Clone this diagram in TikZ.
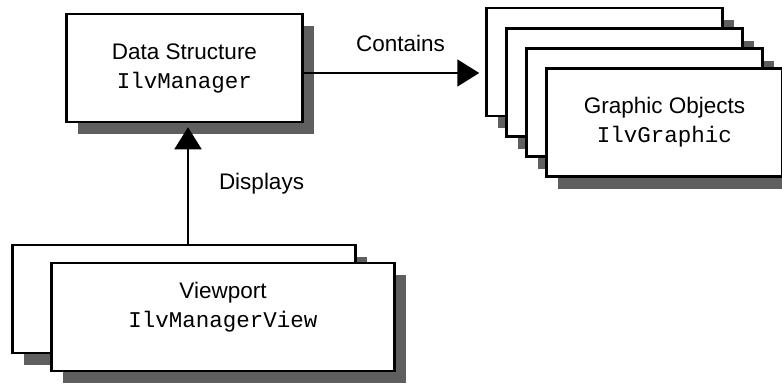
\documentclass[tikz,border=0pt]{standalone}
\usepackage{fontspec}
\setmainfont{Liberation Sans}
\setmonofont{Liberation Mono}
\usepackage{tikz}
\usetikzlibrary{arrows.meta, positioning, shadows}
\definecolor{ilvInk}{HTML}{000000}
\definecolor{ilvShadow}{HTML}{5F5F5F}

\begin{document}
\begin{tikzpicture}[
  x=1pt, y=-1pt,
  box/.style={draw=ilvInk, fill=white, line width=2.5pt, align=center, inner sep=0pt,
              font=\fontsize{22.5}{29}\selectfont, minimum width=236pt, minimum height=108pt,
              drop shadow={shadow xshift=11pt, shadow yshift=-12pt, fill=ilvShadow, opacity=1}},
  viewbox/.style={box, minimum width=343pt},
  arr/.style={-{Triangle[length=22pt, width=27pt]}, line width=2pt, color=ilvInk},
  lbl/.style={font=\fontsize{22.5}{27}\selectfont, inner sep=0pt}
]
\useasboundingbox (0,0) rectangle (782,383);

\node[box] (DS) at (184.5,68) {Data Structure\\\texttt{IlvManager}};

% stack of graphic objects, back to front
\node[box] (g1) at (604.5,62) {};
\node[box] (g2) at ([shift={(20,20.5)}]g1) {};
\node[box] (g3) at ([shift={(20,20)}]g2) {};
\node[box] (g4) at ([shift={(20,20)}]g3) {Graphic Objects\\\texttt{IlvGraphic}};

% two viewports
\node[viewbox] (vA) at (184,299) {};
\node[viewbox, text depth=24pt] (vB) at ([shift={(39,18)}]vA) {Viewport\\\texttt{IlvManagerView}};

\draw[arr] ([yshift=-5pt]DS.east) -- ([yshift=-5pt, xshift=-6pt]DS.east -| g1.west)
  node[lbl, midway, above=20pt, xshift=9pt] {Contains};
\draw[arr, shorten >=4pt] ([xshift=4pt]vA.north) -- ([xshift=4pt]vA.north |- DS.south)
  node[lbl, midway, right=30pt] {Displays};
\end{tikzpicture}
\end{document}
